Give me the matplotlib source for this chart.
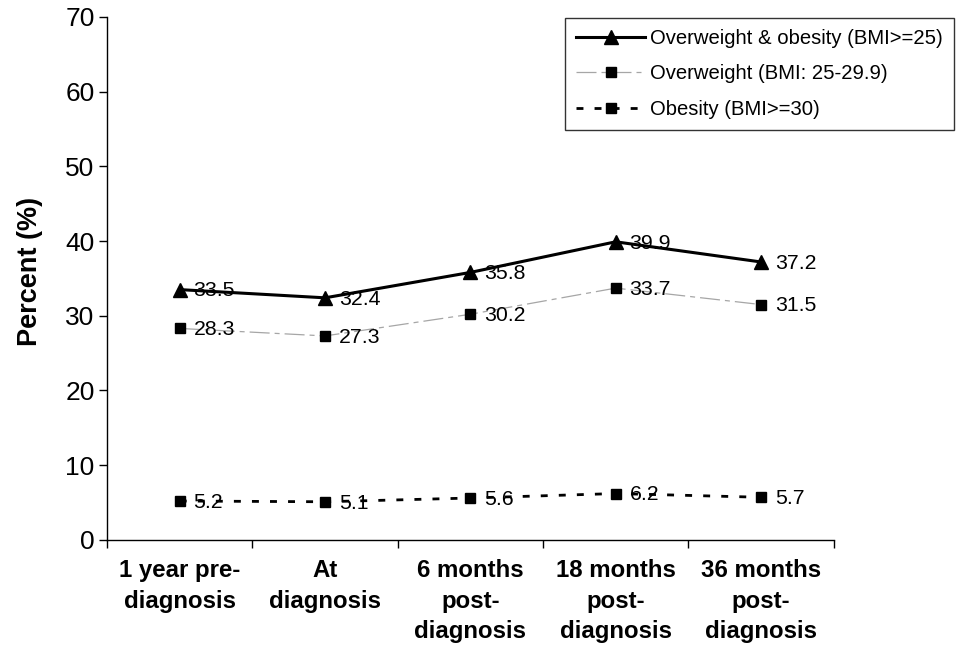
import matplotlib
matplotlib.use("Agg")
import matplotlib.pyplot as plt

categories = ["1 year pre-\ndiagnosis", "At\ndiagnosis", "6 months\npost-\ndiagnosis",
              "18 months\npost-\ndiagnosis", "36 months\npost-\ndiagnosis"]
ow_ob = [33.5, 32.4, 35.8, 39.9, 37.2]
overweight = [28.3, 27.3, 30.2, 33.7, 31.5]
obesity = [5.2, 5.1, 5.6, 6.2, 5.7]
labels = ["Overweight & obesity (BMI>=25)", "Overweight (BMI: 25-29.9)", "Obesity (BMI>=30)"]
yticks = [0, 10, 20, 30, 40, 50, 60, 70]

plt.rcParams['font.family'] = ['Liberation Sans', 'DejaVu Sans']

fig = plt.figure(figsize=(9.56, 6.52), dpi=100)
ax = fig.add_axes([0.112, 0.172, 0.760, 0.802])
x = list(range(len(categories)))

ax.plot(x, ow_ob, color='black', lw=2.2, marker='^', ms=10, label=labels[0])
ax.plot(x, overweight, color='#a6a6a6', lw=0.9, dashes=(16, 4, 4, 4), marker='s', ms=7.5,
        mfc='black', mec='black', label=labels[1])
ax.plot(x, obesity, color='black', lw=2.0, dashes=(2.5, 4.0), dash_capstyle='butt',
        marker='s', ms=7.5, mfc='black', mec='black', label=labels[2])

for series in (ow_ob, overweight, obesity):
    for xi, v in zip(x, series):
        ax.annotate(f"{v}", (xi, v), xytext=(10, -1), textcoords='offset points',
                    ha='left', va='center', fontsize=15.3)

ax.set_xlim(-0.5, 4.5)
ax.set_ylim(0, 70)
ax.set_yticks(yticks)
ax.set_yticklabels([str(t) for t in yticks], fontsize=19)
ax.set_xticks([i - 0.5 for i in range(len(categories) + 1)], minor=False)
ax.set_xticklabels([])
ax.set_xticks(x, minor=True)
ax.set_xticklabels(categories, minor=True, fontsize=17.3, fontweight='bold', linespacing=1.42)
ax.tick_params(axis='x', which='minor', length=0, pad=14)
ax.tick_params(axis='x', which='major', length=6, direction='out', width=1)
ax.tick_params(axis='y', length=6, direction='out', width=1, pad=3)
for s in ('top', 'right'):
    ax.spines[s].set_visible(False)
for s in ('left', 'bottom'):
    ax.spines[s].set_linewidth(1.0)
ax.set_ylabel("Percent (%)", fontsize=19.5, fontweight='bold')
ax.yaxis.set_label_coords(-0.088, 0.514)

leg = ax.legend(loc='upper left', bbox_to_anchor=(565 / 956, 1 - 18 / 652), bbox_transform=fig.transFigure,
                fontsize=14.6, frameon=True, fancybox=False, edgecolor='black', handlelength=3.4,
                handletextpad=0.25, borderaxespad=0, borderpad=0.55, labelspacing=0.8)
leg.get_frame().set_linewidth(1.0)

fig.savefig("out.png", dpi=100)
